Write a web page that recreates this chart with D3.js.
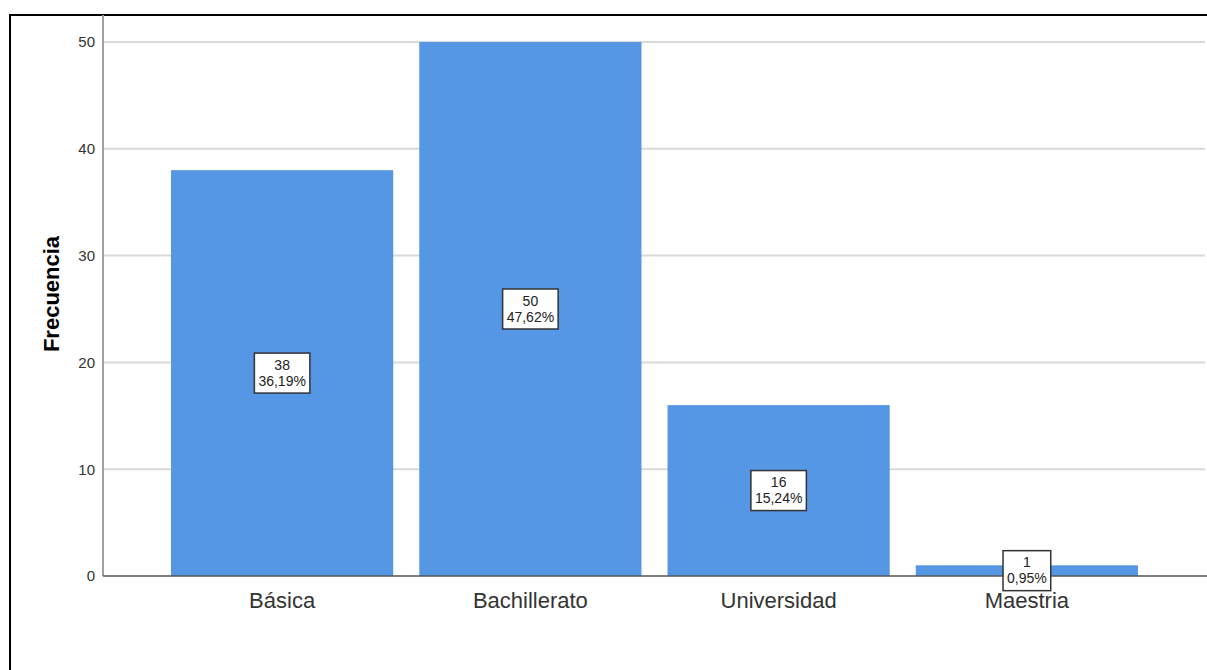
<!DOCTYPE html>
<html><head><meta charset="utf-8">
<script src="https://cdn.jsdelivr.net/npm/d3@7"></script>
<style>body{margin:0;background:#fff}svg{display:block}</style>
</head><body>
<svg id="c" width="1207" height="670"></svg>
<script>
const categories = ["Básica", "Bachillerato", "Universidad", "Maestria"];
const counts = [38, 50, 16, 1];
const percents = ["36,19%", "47,62%", "15,24%", "0,95%"];
const yTicks = [0, 10, 20, 30, 40, 50];

const svg = d3.select("#c");
const font = "'Liberation Sans', Arial, sans-serif";

// frame
svg.append("path").attr("d", "M10,670 V15 H1207").attr("fill", "none").attr("stroke", "#000").attr("stroke-width", 2);

const x = d3.scaleBand().domain(categories).range([158, 1151]).paddingInner(0.105).paddingOuter(0.0525);
const y = d3.scaleLinear().domain([0, 50]).range([576, 42]);

// gridlines
svg.append("g").selectAll("line").data(yTicks.filter(d => d > 0)).join("line")
  .attr("x1", 104).attr("x2", 1205).attr("y1", d => y(d)).attr("y2", d => y(d))
  .attr("stroke", "#d9d9d9").attr("stroke-width", 2);

// bars
svg.append("g").selectAll("rect").data(categories).join("rect")
  .attr("x", d => x(d)).attr("width", x.bandwidth())
  .attr("y", (d, i) => y(counts[i])).attr("height", (d, i) => y(0) - y(counts[i]))
  .attr("fill", "#5596e5");

// axes
const ya = svg.append("g").attr("transform", "translate(103,0)")
  .call(d3.axisLeft(y).tickValues(yTicks).tickSize(0).tickPadding(8));
ya.select(".domain").attr("stroke", "#a0a0a0").attr("stroke-width", 2).attr("d", "M0,15V576");
ya.attr("font-family", font).attr("font-size", 15);
ya.selectAll("text").attr("fill", "#333");

const xa = svg.append("g").attr("transform", "translate(0,576)")
  .call(d3.axisBottom(x).tickSize(0).tickPadding(0));
xa.select(".domain").attr("stroke", "#555").attr("stroke-width", 1.5).attr("d", "M103,0H1207");
xa.attr("font-family", font).attr("font-size", 22);
xa.selectAll("text").attr("dy", null).attr("y", 32).attr("fill", "#333");

// y title
svg.append("text").attr("transform", "translate(59,294) rotate(-90)")
  .attr("text-anchor", "middle").attr("font-family", font).attr("font-weight", "bold")
  .attr("font-size", 22).attr("fill", "#000").text("Frecuencia");

// labels
const lab = svg.append("g").selectAll("g").data(categories).join("g")
  .attr("transform", (d, i) => `translate(${x(d) + x.bandwidth() / 2},${(y(0) + y(counts[i])) / 2})`);
lab.each(function (d, i) {
  const g = d3.select(this);
  const r = g.append("rect");
  const t1 = g.append("text").attr("y", -3.5).text(counts[i]);
  const t2 = g.append("text").attr("y", 12.5).text(percents[i]);
  g.selectAll("text").attr("text-anchor", "middle").attr("font-family", font).attr("font-size", 14).attr("fill", "#222");
  const w = Math.max(t1.node().getComputedTextLength(), t2.node().getComputedTextLength()) + 8;
  r.attr("x", -w / 2).attr("y", -20).attr("width", w).attr("height", 40)
    .attr("fill", "#fff").attr("stroke", "#333").attr("stroke-width", 1.5);
});
</script>
</body></html>
